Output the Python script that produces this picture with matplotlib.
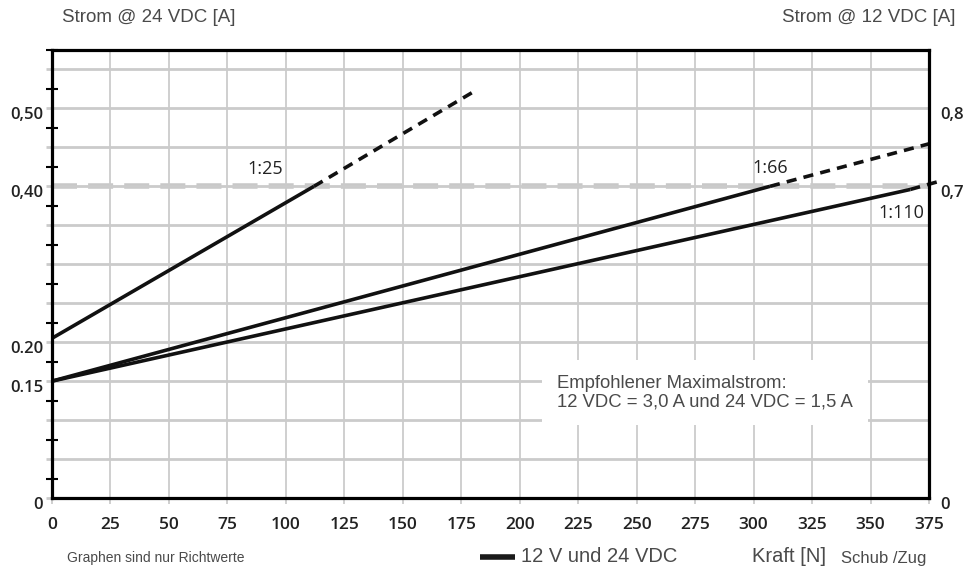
import matplotlib.pyplot as plt
import matplotlib.transforms as mtransforms
from matplotlib.lines import Line2D

# data
ratios = ['1:25', '1:66', '1:110']
force_solid = [[0, 112], [0, 307], [0, 367]]
current_solid = [[0.205, 0.40], [0.15, 0.40], [0.15, 0.396]]
force_dashed = [[112, 180], [307, 378], [367, 380]]
current_dashed = [[0.40, 0.521], [0.40, 0.457], [0.396, 0.407]]
label_x = [91, 307, 363]
label_y = [0.422, 0.424, 0.366]

x_ticks = [0, 25, 50, 75, 100, 125, 150, 175, 200, 225, 250, 275, 300, 325, 350, 375]
y_grid = [0, 0.05, 0.10, 0.15, 0.20, 0.25, 0.30, 0.35, 0.40, 0.45, 0.50, 0.55]
y_minor = [0.025, 0.075, 0.125, 0.175, 0.225, 0.275, 0.325, 0.375, 0.425, 0.475, 0.525, 0.575]
left_labels = ['0', '', '', '0.15', '0.20', '', '', '', '0,40', '', '0,50', '']
right_ticks = [0, 0.40, 0.50]
right_labels = ['0', '0,7', '0,8']
max_current = 0.40

tick_font = 'Open Sans'
text_font = 'Liberation Sans'
grid_col = '#cbcbcb'
text_col = '#4a4a4a'

fig = plt.figure(figsize=(9.68, 5.74), dpi=100)
ax = fig.add_axes([52/968, 1-498/574, (929-52)/968, (498-50)/574])
ax.set_xlim(0, 375)
ax.set_ylim(0, 0.5745)

# grid
ax.set_xticks(x_ticks)
ax.set_yticks(y_grid)
ax.set_yticks(y_minor, minor=True)
ax.set_yticklabels(left_labels)
ax.grid(True, which='major', axis='x', color=grid_col, lw=1.3, zorder=0)
ax.grid(True, which='major', axis='y', color=grid_col, lw=2.0, zorder=0)

# max current line
ax.axhline(max_current, color='#c8c8c8', lw=4, ls=(0, (4.5, 2)),
           gapcolor='white', zorder=1)

for i in range(len(ratios)):
    ax.plot(force_solid[i], current_solid[i], color='#111111', lw=2.6,
            solid_capstyle='butt', zorder=4, clip_on=False)
    ax.plot(force_dashed[i], current_dashed[i], color='#111111', lw=2.6,
            ls=(0, (2.8, 2.0)), zorder=4, clip_on=False)
    ax.text(label_x[i], label_y[i], ratios[i], fontsize=13, family=tick_font,
            color='#222222', ha='center', va='center', zorder=5,
            bbox=dict(facecolor='white', edgecolor='none', pad=0.5) if i == 2 else None)

ax.text(216, 0.158, 'Empfohlener Maximalstrom:\n12 VDC = 3,0 A und 24 VDC = 1,5 A',
        fontsize=13.3, family=text_font, color=text_col, va='top', ha='left',
        linespacing=1.1, zorder=3,
        bbox=dict(boxstyle='square,pad=0.8', facecolor='white', edgecolor='none'))

for s in ax.spines.values():
    s.set_linewidth(2.3)
    s.set_color('black')
    s.set_zorder(6)

ax.tick_params(axis='x', which='major', length=4, width=1.3, color=grid_col,
               pad=9.5, labelsize=12.5, labelcolor='#222222')
ax.tick_params(axis='y', which='major', length=4, width=2, color=grid_col,
               pad=2.5, labelsize=12, labelcolor='#222222')
ax.tick_params(axis='y', which='minor', direction='inout', length=9, width=1.5,
               color='black')
for lab in ax.get_xticklabels() + ax.get_yticklabels():
    lab.set_family(tick_font)
    lab.set_weight('semibold')
offset = mtransforms.ScaledTranslation(0, -5/100, fig.dpi_scale_trans)
for lab in ax.get_yticklabels():
    lab.set_transform(lab.get_transform() + offset)

# right axis
ax2 = ax.twinx()
ax2.set_ylim(ax.get_ylim())
ax2.set_yticks(right_ticks)
ax2.set_yticklabels(right_labels)
ax2.tick_params(axis='y', length=0, pad=8, labelsize=12, labelcolor='#222222')
for lab in ax2.get_yticklabels():
    lab.set_family(tick_font)
    lab.set_weight('semibold')
    lab.set_transform(lab.get_transform() + offset)
for s in ax2.spines.values():
    s.set_visible(False)

# surrounding texts
fig.text(62/968, 1-18/574, 'Strom @ 24 VDC [A]', fontsize=13.5, family=text_font,
         color=text_col, va='center', ha='left')
fig.text(955/968, 1-18/574, 'Strom @ 12 VDC [A]', fontsize=13.5, family=text_font,
         color=text_col, va='center', ha='right')
fig.text(67/968, 1-558/574, 'Graphen sind nur Richtwerte', fontsize=10, family=text_font,
         color=text_col, va='center', ha='left')
fig.add_artist(Line2D([480/968, 515/968], [1-557/574, 1-557/574], color='#1a1a1a',
                      lw=4, solid_capstyle='butt'))
fig.text(521/968, 1-557/574, '12 V und 24 VDC', fontsize=14.5, family=text_font,
         color=text_col, va='center', ha='left')
fig.text(752/968, 1-557/574, 'Kraft [N]', fontsize=14.5, family=text_font,
         color=text_col, va='center', ha='left')
fig.text(926/968, 1-558/574, 'Schub /Zug', fontsize=12, family=text_font,
         color=text_col, va='center', ha='right')

fig.savefig('out.png', dpi=100)
